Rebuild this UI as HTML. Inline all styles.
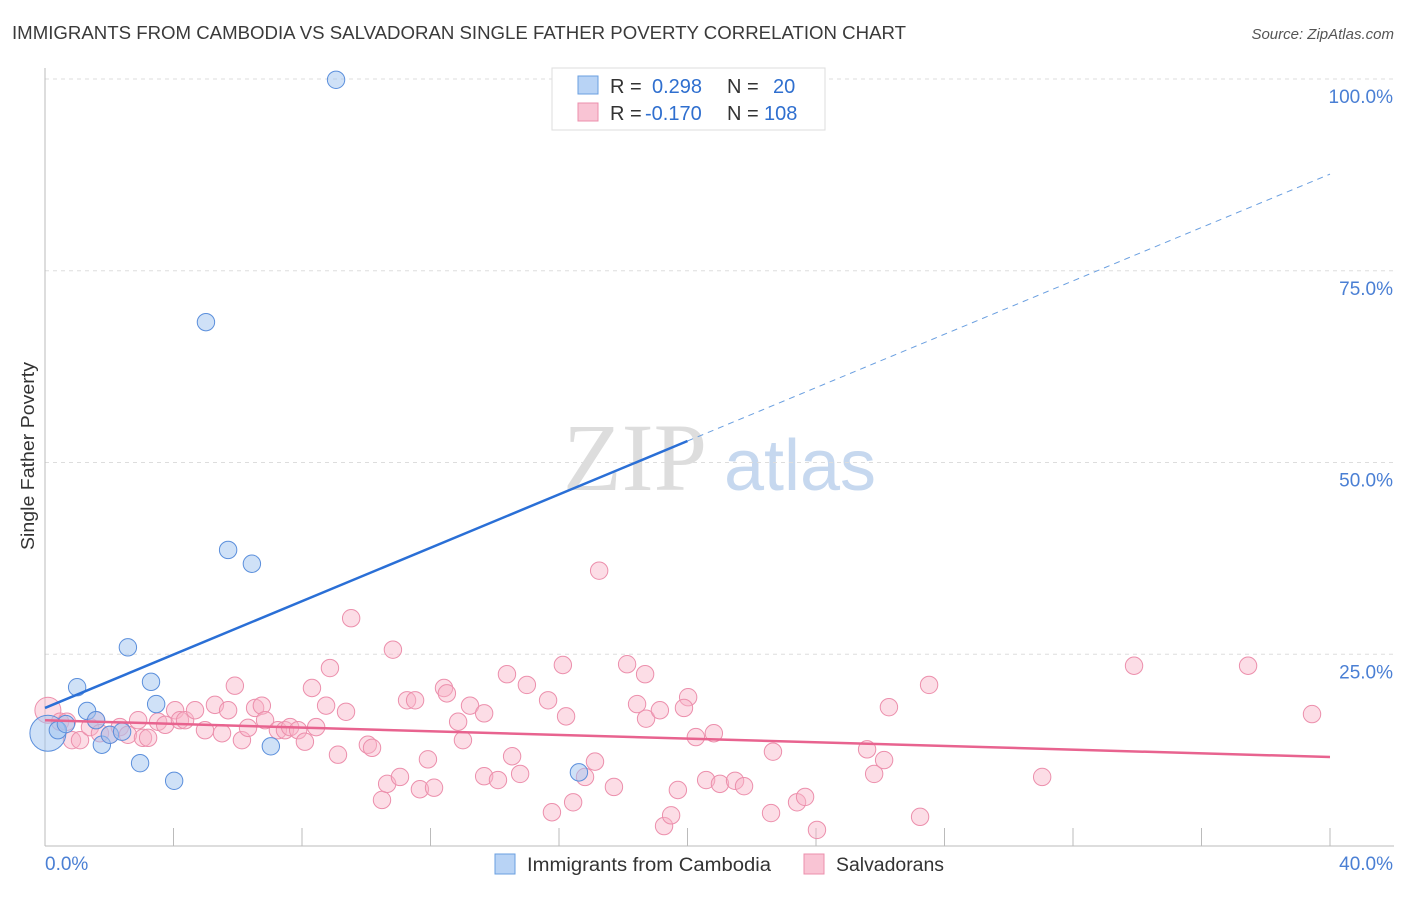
<!DOCTYPE html>
<html><head><meta charset="utf-8"><style>
body{margin:0;background:#fff;font-family:"Liberation Sans",sans-serif;}
</style></head><body>
<svg width="1406" height="892" xmlns="http://www.w3.org/2000/svg" font-family="Liberation Sans, sans-serif">
<text x="12" y="39" font-size="18" fill="#3a3a3a" textLength="894" lengthAdjust="spacingAndGlyphs">IMMIGRANTS FROM CAMBODIA VS SALVADORAN SINGLE FATHER POVERTY CORRELATION CHART</text>
<text x="1394" y="39" font-size="15" font-style="italic" fill="#555" text-anchor="end">Source: ZipAtlas.com</text>
<g>
<text x="635" y="490" font-size="96" font-family="Liberation Serif, serif" fill="#ddd" text-anchor="middle">ZIP</text>
<text x="800" y="490" font-size="72" fill="#c6d8ef" text-anchor="middle">atlas</text>
</g>
<g id="grid"></g>
<g id="axes"></g>
<g id="marks"></g>
<g id="trend"></g>
<text x="34" y="456" font-size="18" fill="#333" transform="rotate(-90 34 456)" text-anchor="middle" textLength="188" lengthAdjust="spacingAndGlyphs">Single Father Poverty</text>
<g>
<rect x="552" y="68" width="273" height="62" fill="#fff" stroke="#ddd"/>
<rect x="578" y="76" width="20" height="18" fill="#b8d3f5" stroke="#6a9fe0"/>
<rect x="578" y="103" width="20" height="18" fill="#f9c4d4" stroke="#ec8fac"/>
<text x="610" y="93" font-size="20" fill="#333">R =</text><text x="652" y="93" font-size="20" fill="#2f6fcf">0.298</text>
<text x="727" y="93" font-size="20" fill="#333">N =</text><text x="773" y="93" font-size="20" fill="#2f6fcf">20</text>
<text x="610" y="120" font-size="20" fill="#333">R =</text><text x="645" y="120" font-size="20" fill="#2f6fcf">-0.170</text>
<text x="727" y="120" font-size="20" fill="#333">N =</text><text x="764" y="120" font-size="20" fill="#2f6fcf">108</text>
</g>
<g>
<rect x="495" y="854" width="20" height="20" fill="#b8d3f5" stroke="#6a9fe0"/>
<text x="527" y="871" font-size="19" fill="#333" textLength="244" lengthAdjust="spacingAndGlyphs">Immigrants from Cambodia</text>
<rect x="804" y="854" width="20" height="20" fill="#f9c4d4" stroke="#ec8fac"/>
<text x="836" y="871" font-size="19" fill="#333" textLength="108" lengthAdjust="spacingAndGlyphs">Salvadorans</text>
</g>
</svg>
<script>
const pinkX=[0.09,0.47,0.68,0.84,1.09,1.40,1.59,1.71,2.02,2.33,2.58,2.90,3.05,3.21,3.52,3.74,4.05,4.20,4.36,4.67,4.98,5.29,5.51,5.70,5.91,6.13,6.32,6.54,6.75,6.85,7.25,7.47,7.63,7.88,8.09,8.31,8.44,8.75,8.87,9.37,9.53,9.12,10.05,10.18,10.49,10.65,10.83,11.05,11.27,11.52,11.67,11.92,12.11,12.42,12.51,12.86,13.01,13.23,13.67,13.67,14.10,14.38,14.54,14.79,15.00,15.66,15.78,16.12,16.22,16.44,16.81,17.12,17.25,17.71,18.12,18.43,18.71,18.68,19.14,19.27,19.49,19.70,20.02,19.89,20.26,20.58,20.82,21.01,21.48,21.76,22.60,22.66,23.41,23.66,24.03,25.59,25.81,26.12,26.27,27.24,27.52,31.04,33.90,37.45,39.44];
const pinkY=[17.7,16.2,16.2,13.8,13.8,15.5,16.4,14.7,14.5,15.5,14.5,16.4,14.1,14.1,16.2,15.8,17.7,16.4,16.4,17.7,15.1,18.4,14.7,17.7,20.9,13.8,15.4,18.0,18.3,16.4,15.1,15.1,15.5,15.1,13.6,20.6,15.5,18.3,23.2,17.5,29.7,11.9,13.2,12.8,6.0,8.1,25.6,9.0,19.0,19.0,7.4,11.3,7.6,20.6,19.9,16.2,13.8,18.3,17.3,9.1,8.6,22.4,11.7,9.4,21.0,19.0,4.4,23.6,16.9,5.7,9.0,11.0,35.9,7.7,23.7,18.5,16.6,22.4,17.7,2.6,4.0,7.3,19.4,18.0,14.2,8.6,14.7,8.1,8.5,7.8,4.3,12.3,5.7,6.4,2.1,12.6,9.4,11.2,18.1,3.8,21.0,9.0,23.5,23.5,17.2];
const blueX=[0.09,0.40,0.65,1.00,1.31,1.59,1.77,2.02,2.40,2.58,2.96,3.30,3.46,4.02,5.01,5.70,6.44,7.03,9.06,16.62];
const blueY=[14.7,15.1,15.9,20.7,17.6,16.4,13.2,14.5,14.9,25.9,10.8,21.4,18.5,8.5,68.3,38.6,36.8,13.0,99.9,9.6];
const yTicks=[25,50,75,100];
const yTickLabels=["25.0%","50.0%","75.0%","100.0%"];
const blueTrend=[18.0,87.6], blueSolidEnd=20;
const pinkTrend=[16.4,11.6];
const X0=45,X1=1330,Y0=846,Y100=79;
const sx=v=>X0+(X1-X0)*v/40, sy=v=>Y0-(Y0-Y100)*v/100;
const NS="http://www.w3.org/2000/svg";
function mk(t,a,p){const e=document.createElementNS(NS,t);for(const k in a)e.setAttribute(k,a[k]);p.appendChild(e);return e;}
const grid=document.getElementById('grid'),axes=document.getElementById('axes'),marks=document.getElementById('marks'),trend=document.getElementById('trend');
yTicks.forEach((v,i)=>{
 const l=mk('line',{x1:X0,x2:1393,y1:sy(v),y2:sy(v),stroke:'#ddd','stroke-dasharray':'4,4'},grid);
 
 
 const t=mk('text',{x:1393,y:sy(v)+24,'font-size':19,fill:'#4a7fd4','text-anchor':'end'},axes);
 t.textContent=yTickLabels[i];
 
 
});
mk('line',{x1:X0,x2:X0,y1:68,y2:Y0,stroke:'#bbb'},axes);
mk('line',{x1:X0,x2:X1+64,y1:Y0,y2:Y0,stroke:'#bbb'},axes);
for(let i=1;i<=10;i++){const x=sx(i*4);const t=mk('line',{x1:x,x2:x,y1:828,y2:Y0,stroke:'#bbb'},axes);}
const xl=mk('text',{x:45,y:870,'font-size':19,fill:'#4a7fd4'},axes);xl.textContent='0.0%';


const xr=mk('text',{x:1393,y:870,'font-size':19,fill:'#4a7fd4','text-anchor':'end'},axes);xr.textContent='40.0%';


pinkX.forEach((x,i)=>{const c=mk('circle',{cx:sx(x),cy:sy(pinkY[i]),r:i===0?13:8.7,fill:'rgba(248,180,200,0.45)',stroke:'#ec8fac','stroke-width':1},marks);
 
 });
blueX.forEach((x,i)=>{const c=mk('circle',{cx:sx(x),cy:sy(blueY[i]),r:i===0?18:8.7,fill:'rgba(160,195,240,0.5)',stroke:'#5b8fdc','stroke-width':1},marks);
 
 });
const bm=blueTrend[0]+(blueTrend[1]-blueTrend[0])*blueSolidEnd/40;
const b1=mk('line',{x1:sx(0),y1:sy(blueTrend[0]),x2:sx(blueSolidEnd),y2:sy(bm),stroke:'#2a6fd6','stroke-width':2.5},trend);


const b2=mk('line',{x1:sx(blueSolidEnd),y1:sy(bm),x2:sx(40),y2:sy(blueTrend[1]),stroke:'#6a9fe0','stroke-width':1,'stroke-dasharray':'6,5'},trend);


const p1=mk('line',{x1:sx(0),y1:sy(pinkTrend[0]),x2:sx(40),y2:sy(pinkTrend[1]),stroke:'#e8638f','stroke-width':2.5},trend);


</script>
</body></html>
